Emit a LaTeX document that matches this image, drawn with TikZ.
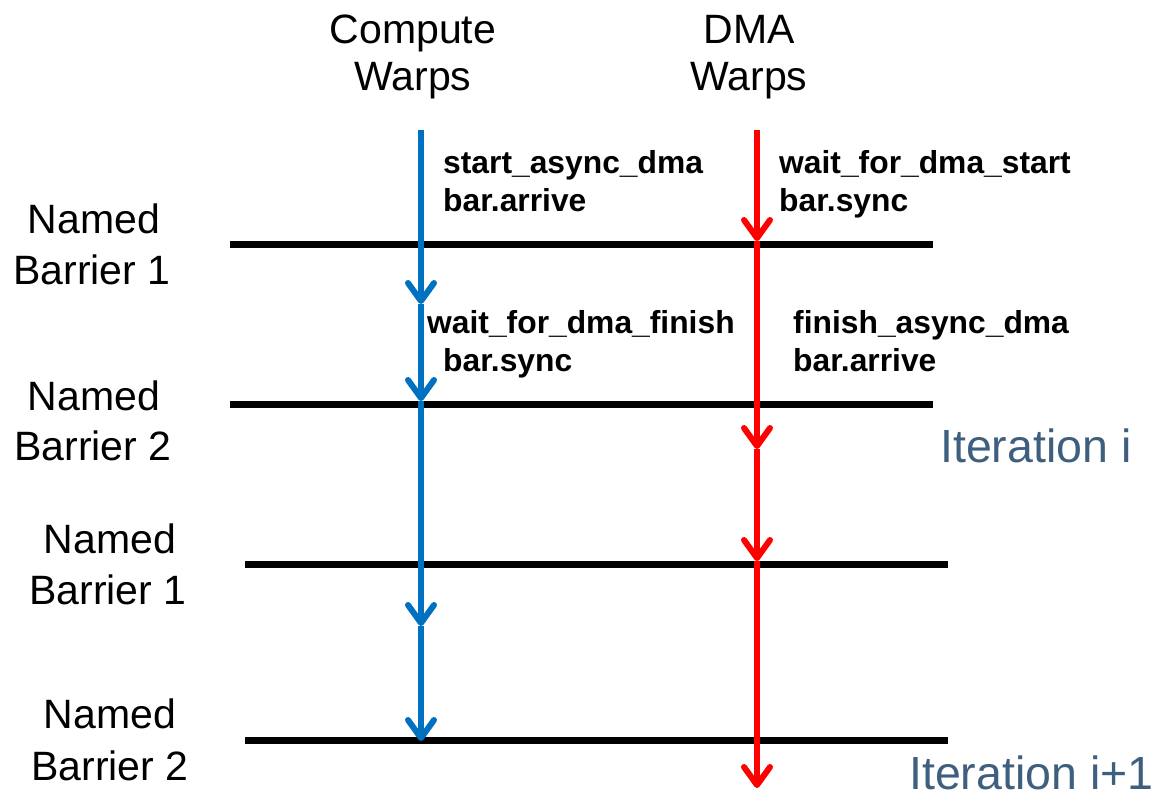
\documentclass[tikz,border=0pt]{standalone}
\usepackage{fontspec}
\setmainfont{Liberation Sans}
\usetikzlibrary{arrows.meta}
\definecolor{cblue}{HTML}{0070C0}
\definecolor{cred}{HTML}{FF0000}
\definecolor{iterc}{HTML}{3F5F7F}
\begin{document}
\begin{tikzpicture}[x=1pt,y=-1pt,
  lbl/.style={inner sep=0pt, font=\fontsize{41}{49}\selectfont, anchor=base},
  op/.style={inner sep=0pt, font=\fontsize{31.8}{37}\selectfont\bfseries, anchor=base west},
  itlbl/.style={inner sep=0pt, font=\fontsize{46.5}{55}\selectfont, text=iterc, anchor=base west},
  barline/.style={line width=7pt, black},
  flow/.style={line width=6pt, -{Straight Barb[length=18pt,width=26pt,round]}},
]
\useasboundingbox (0,0) rectangle (1155,801);

% column headers
\node[lbl] (cw1) at (413,43) {Compute};
\node[lbl] (cw2) at (413,90) {Warps};
\node[lbl] (dw1) at (749,43) {DMA};
\node[lbl] (dw2) at (749,90) {Warps};

% barrier labels
\node[lbl] (nb1a) at (94,233) {Named};
\node[lbl] (nb1b) at (92,284) {Barrier 1};
\node[lbl] (nb2a) at (94,410) {Named};
\node[lbl] (nb2b) at (93,460) {Barrier 2};
\node[lbl] (nb3a) at (110,553) {Named};
\node[lbl] (nb3b) at (108,604) {Barrier 1};
\node[lbl] (nb4a) at (110,728) {Named};
\node[lbl] (nb4b) at (110,780) {Barrier 2};

% barrier lines
\coordinate (n1a) at (230,244); \coordinate (n1b) at (933,244);
\coordinate (n2a) at (230,404); \coordinate (n2b) at (933,404);
\coordinate (n3a) at (245,564); \coordinate (n3b) at (948,564);
\coordinate (n4a) at (245,740); \coordinate (n4b) at (948,740);
\draw[barline] (n1a) -- (n1b);
\draw[barline] (n2a) -- (n2b);
\draw[barline] (n3a) -- (n3b);
\draw[barline] (n4a) -- (n4b);

% compute warps flow
\coordinate (b0) at (421,130);
\coordinate (b1) at (421,304);
\coordinate (b2) at (421,401);
\coordinate (b3) at (421,626);
\coordinate (b4) at (421,741);
\draw[flow, cblue] (b0) -- (b1);
\draw[flow, cblue] (b1) -- (b2);
\draw[flow, cblue] (b2) -- (b3);
\draw[flow, cblue] (b3) -- (b4);

% dma warps flow
\coordinate (r0) at (757,130);
\coordinate (r1) at (757,241);
\coordinate (r2) at (757,449);
\coordinate (r3) at (757,561);
\coordinate (r4) at (757,788);
\draw[flow, cred] (r0) -- (r1);
\draw[flow, cred] (r1) -- (r2);
\draw[flow, cred] (r2) -- (r3);
\draw[flow, cred] (r3) -- (r4);

% operation labels
\node[op] (c1a) at (443,173) {start\_async\_dma};
\node[op] (c1b) at (443,211) {bar.arrive};
\node[op] (d1a) at (779,173) {wait\_for\_dma\_start};
\node[op] (d1b) at (779,211) {bar.sync};
\node[op] (c2a) at (427,333) {wait\_for\_dma\_finish};
\node[op] (c2b) at (443,371) {bar.sync};
\node[op] (d2a) at (793,333) {finish\_async\_dma};
\node[op] (d2b) at (793,371) {bar.arrive};

% iteration labels
\node[itlbl] (it1) at (940,462) {Iteration i};
\node[itlbl] (it2) at (909,789) {Iteration i+1};
\end{tikzpicture}
\end{document}
